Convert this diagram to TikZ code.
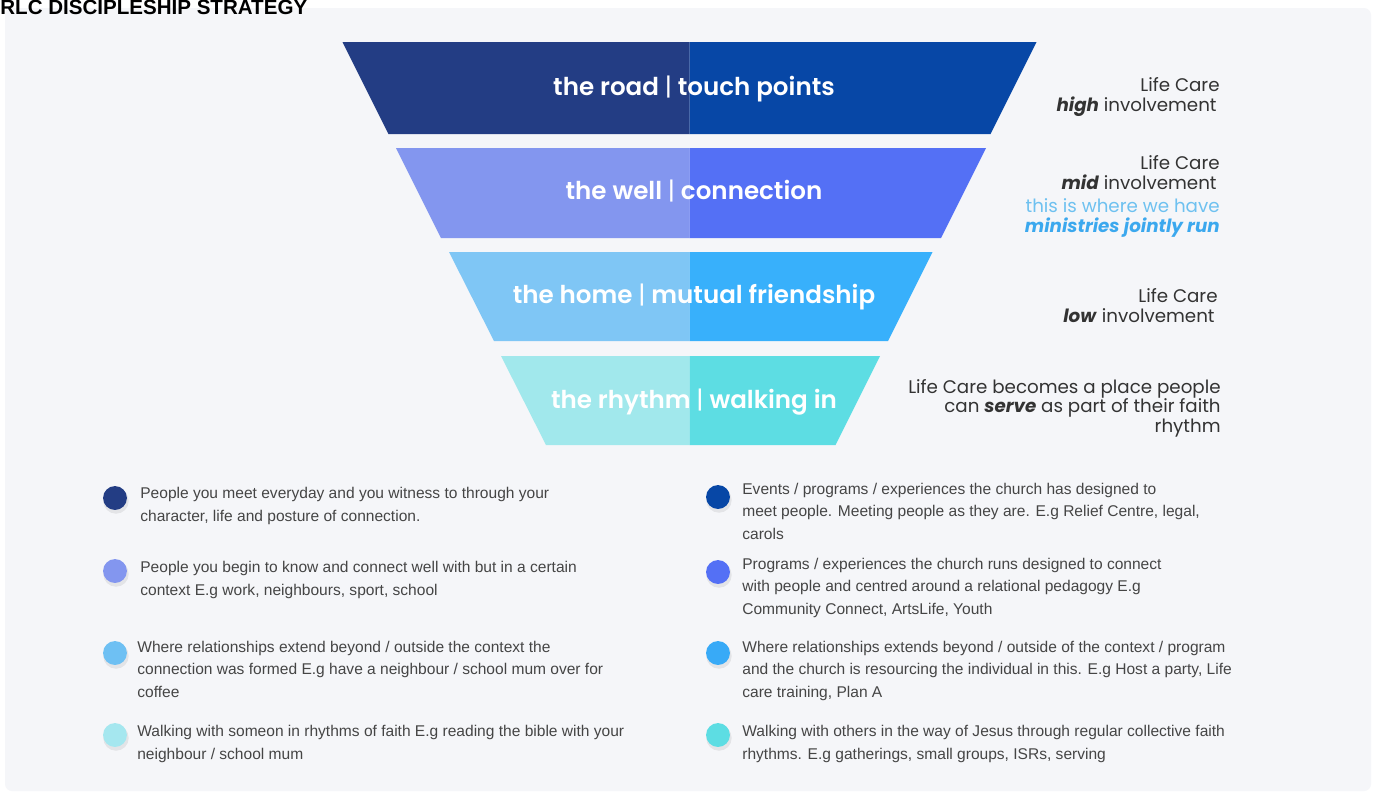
\documentclass[tikz,border=0pt]{standalone}
\usepackage{fontspec}
\setmainfont{Liberation Sans}
\newfontfamily\pop{Poppins}
\newfontfamily\popmed{Poppins}[UprightFont={* SemiBold}]
\definecolor{panel}{HTML}{F5F6F9}
\definecolor{bAl}{HTML}{233D84}
\definecolor{bAr}{HTML}{0747A6}
\definecolor{bBl}{HTML}{8396EF}
\definecolor{bBr}{HTML}{5470F5}
\definecolor{bCl}{HTML}{7FC6F5}
\definecolor{bCr}{HTML}{38B0FB}
\definecolor{bDl}{HTML}{A1E8EC}
\definecolor{bDr}{HTML}{5DDDE3}
\definecolor{dotC}{HTML}{6EC0F3}
\definecolor{dotD}{HTML}{A5E7EF}
\definecolor{dotCr}{HTML}{38AAF7}
\definecolor{bodytxt}{HTML}{454545}
\definecolor{sidetxt}{HTML}{333333}
\definecolor{ltblue}{HTML}{6EC1F0}
\definecolor{midblue}{HTML}{3BA8EE}
\tikzset{
  bandlbl/.style={text=white, anchor=base, inner sep=0pt, font=\popmed\fontsize{14}{16}\selectfont},
  side/.style={text=sidetxt, anchor=base east, align=right, inner sep=0pt, font=\pop\fontsize{10.4}{10.9}\selectfont},
  item/.style={text=bodytxt, anchor=base west, align=left, inner sep=0pt, font=\fontsize{8.85}{12.75}\selectfont},
  dot/.style={circle, minimum size=13.6pt, inner sep=0pt, fill=#1},
  shadowdot/.style={circle, minimum size=14.5pt, inner sep=0pt, fill=black, opacity=0.07}
}
\newcommand{\bulletdot}[4]{%
  \node[shadowdot] at (#2+1,#3+3) {};
  \node[dot=#4] (#1) at (#2,#3) {};}
\begin{document}
\begin{tikzpicture}[x=0.02cm,y=-0.02cm]
\useasboundingbox (0,0) rectangle (1377,796);
\fill[white] (0,0) rectangle (1377,796);
\fill[panel, rounded corners=4] (5,8) rectangle (1371,791);
\node[anchor=base west, inner sep=0pt, font=\bfseries\fontsize{11.7}{13}\selectfont] (title) at (0,14) {RLC DISCIPLESHIP STRATEGY};

% funnel bands
\fill[bAl] (342.5,42) -- (689.5,42) -- (689.5,134) -- (388.5,134) -- cycle;
\fill[bAr] (689.5,42) -- (1036.5,42) -- (990.5,134) -- (689.5,134) -- cycle;
\fill[bBl] (396,148) -- (689.5,148) -- (689.5,238) -- (441,238) -- cycle;
\fill[bBr] (689.5,148) -- (986,148) -- (941,238) -- (689.5,238) -- cycle;
\fill[bCl] (449,252) -- (689.5,252) -- (689.5,341) -- (494,341) -- cycle;
\fill[bCr] (689.5,252) -- (932.5,252) -- (888,341) -- (689.5,341) -- cycle;
\fill[bDl] (501,356) -- (689.5,356) -- (689.5,445) -- (546,445) -- cycle;
\fill[bDr] (689.5,356) -- (880,356) -- (835.5,445) -- (689.5,445) -- cycle;

\node[bandlbl] (road) at (694,95) {the road {\pop|} touch points};
\node[bandlbl] (well) at (694,199) {the well {\pop|} connection};
\node[bandlbl] (home) at (694,303) {the home {\pop|} mutual friendship};
\node[bandlbl] (rhythm) at (694,408) {the rhythm {\pop|} walking in};

% side notes (anchor = baseline of last line)
\node[side] (sideA) at (1220,111) {Life Care\\\textbf{\textit{high}} involvement\,};
\node[side] (sideB) at (1220,189) {Life Care\\\textbf{\textit{mid}} involvement\,};
\node[side, text=ltblue] (sideB2) at (1220,232) {this is where we have\\\textcolor{midblue}{\textbf{\textit{ministries jointly run}}}};
\node[side] (sideC) at (1218,322) {Life Care\\\textbf{\textit{low}} involvement\,};
\node[side] (sideD) at (1221,432) {Life Care becomes a place people\\can \textbf{\textit{serve}} as part of their faith\\rhythm};

% left column
\bulletdot{dA}{115}{498}{bAl}
\bulletdot{dB}{115}{571}{bBl}
\bulletdot{dC}{115}{653}{dotC}
\bulletdot{dD}{115}{735}{dotD}
\node[item] (tA) at (140,521) {People you meet everyday and you witness to through your\\character, life and posture of connection.};
\node[item] (tB) at (140,595) {People you begin to know and connect well with but in a certain\\context E.g work, neighbours, sport, school};
\node[item] (tC) at (137,697) {Where relationships extend beyond / outside the context the\\connection was formed E.g have a neighbour / school mum over for\\coffee};
\node[item] (tD) at (137,759) {Walking with someon in rhythms of faith E.g reading the bible with your\\neighbour / school mum};

% right column
\bulletdot{eA}{718}{497}{bAr}
\bulletdot{eB}{718}{572}{bBr}
\bulletdot{eC}{718}{653}{dotCr}
\bulletdot{eD}{718}{735}{bDr}
\node[item] (uA) at (742,539) {Events / programs / experiences the church has designed to\\meet people. Meeting people as they are. E.g Relief Centre, legal,\\carols};
\node[item] (uB) at (742,614) {Programs / experiences the church runs designed to connect\\with people and centred around a relational pedagogy E.g\\Community Connect, ArtsLife, Youth};
\node[item] (uC) at (742,697) {Where relationships extends beyond / outside of the context / program\\and the church is resourcing the individual in this. E.g Host a party, Life\\care training, Plan A};
\node[item] (uD) at (742,759) {Walking with others in the way of Jesus through regular collective faith\\rhythms. E.g gatherings, small groups, ISRs, serving};
\end{tikzpicture}
\end{document}
